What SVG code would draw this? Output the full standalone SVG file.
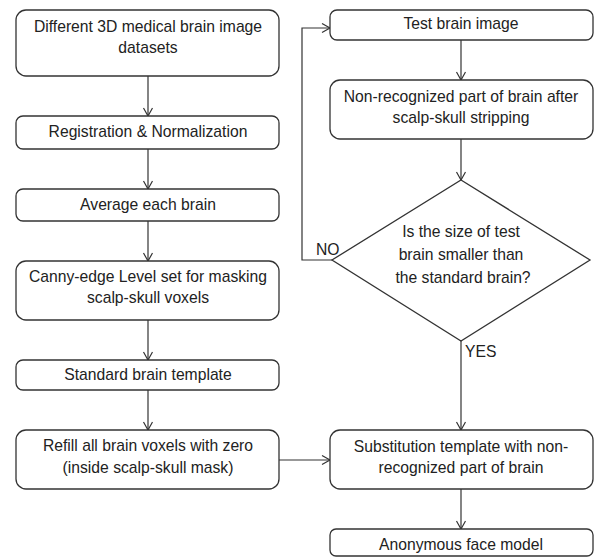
<svg xmlns="http://www.w3.org/2000/svg" width="595" height="558" viewBox="0 0 595 558">
<defs>
<style>
.box{fill:#fff;stroke:#333;stroke-width:1.3}
.t{font-family:"Liberation Sans",Arial,sans-serif;font-size:15.7px;fill:#222;text-anchor:middle}
.l{font-family:"Liberation Sans",Arial,sans-serif;font-size:15.7px;fill:#222}
.c{fill:none;stroke:#333;stroke-width:1.2}
</style>
<marker id="ah" markerWidth="12" markerHeight="12" refX="9" refY="5" orient="auto" markerUnits="userSpaceOnUse">
<path d="M1,0.5 L9,5 L1,9.5" fill="none" stroke="#333" stroke-width="1.2"/>
</marker>
</defs>
<rect width="595" height="558" fill="#fff"/>
<g id="connectors">
<line class="c" x1="148" y1="76" x2="148" y2="116" marker-end="url(#ah)"/>
<line class="c" x1="148" y1="149" x2="148" y2="189" marker-end="url(#ah)"/>
<line class="c" x1="148" y1="221" x2="148" y2="261" marker-end="url(#ah)"/>
<line class="c" x1="148" y1="320" x2="148" y2="360" marker-end="url(#ah)"/>
<line class="c" x1="148" y1="390" x2="148" y2="430" marker-end="url(#ah)"/>
<line class="c" x1="279" y1="460" x2="330" y2="460" marker-end="url(#ah)"/>
<line class="c" x1="461" y1="40" x2="461" y2="80" marker-end="url(#ah)"/>
<line class="c" x1="461" y1="139" x2="461" y2="180" marker-end="url(#ah)"/>
<line class="c" x1="461" y1="341" x2="461" y2="430" marker-end="url(#ah)"/>
<line class="c" x1="461" y1="489" x2="461" y2="529" marker-end="url(#ah)"/>
<polyline class="c" points="332,260 302,260 302,28 330,28" marker-end="url(#ah)"/>
<text class="l" x="316" y="255">NO</text>
<text class="l" x="465" y="357">YES</text>
</g>
<g id="n1"><rect class="box" x="16" y="10" width="263" height="66" rx="10"/>
<text class="t" x="148" y="32">Different 3D medical brain image</text>
<text class="t" x="148" y="53">datasets</text></g>
<g id="n2"><rect class="box" x="16" y="116" width="263" height="33" rx="7"/>
<text class="t" x="148" y="137">Registration &amp; Normalization</text></g>
<g id="n3"><rect class="box" x="16" y="189" width="263" height="32" rx="7"/>
<text class="t" x="148" y="210">Average each brain</text></g>
<g id="n4"><rect class="box" x="16" y="261" width="263" height="59" rx="10"/>
<text class="t" x="148" y="282">Canny-edge Level set for masking</text>
<text class="t" x="148" y="303">scalp-skull voxels</text></g>
<g id="n5"><rect class="box" x="16" y="360" width="263" height="30" rx="7"/>
<text class="t" x="148" y="380">Standard brain template</text></g>
<g id="n6"><rect class="box" x="16" y="430" width="263" height="59" rx="10"/>
<text class="t" x="148" y="451">Refill all brain voxels with zero</text>
<text class="t" x="148" y="473">(inside scalp-skull mask)</text></g>
<g id="n7"><rect class="box" x="330" y="10" width="263" height="30" rx="7"/>
<text class="t" x="461" y="29">Test brain image</text></g>
<g id="n8"><rect class="box" x="330" y="80" width="263" height="59" rx="10"/>
<text class="t" x="461" y="102">Non-recognized part of brain after</text>
<text class="t" x="461" y="123">scalp-skull stripping</text></g>
<g id="n9"><polygon class="box" points="461,180 590,260 461,341 332,260"/>
<text class="t" x="461" y="237">Is the size of test</text>
<text class="t" x="461" y="260">brain smaller than</text>
<text class="t" x="463" y="283">the standard brain?</text></g>
<g id="n10"><rect class="box" x="330" y="430" width="263" height="59" rx="10"/>
<text class="t" x="461" y="452">Substitution template with non-</text>
<text class="t" x="461" y="473">recognized part of brain</text></g>
<g id="n11"><rect class="box" x="330" y="529" width="263" height="27" rx="6"/>
<text class="t" x="461" y="550">Anonymous face model</text></g>
</svg>
